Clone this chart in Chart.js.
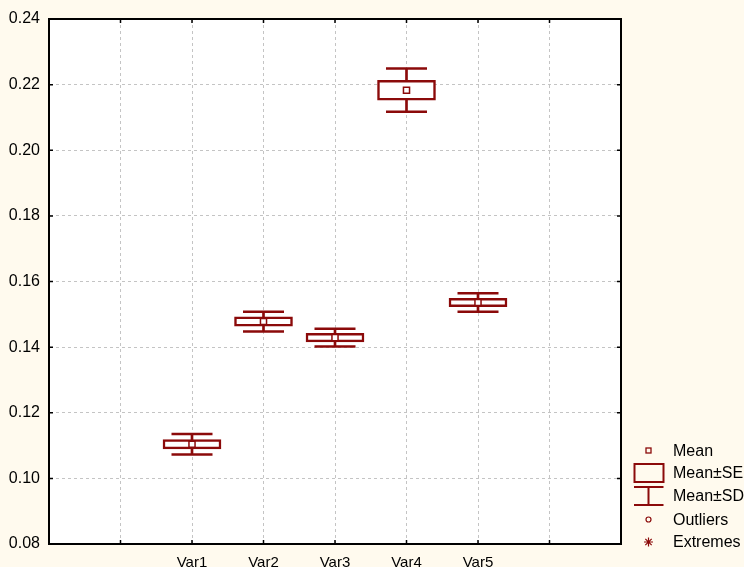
<!DOCTYPE html>
<html>
<head>
<meta charset="utf-8">
<script src="https://cdn.jsdelivr.net/npm/chart.js@4/dist/chart.umd.min.js"></script>
<style>
  body { margin: 0; background: #fffaee; }
  canvas { display: block; }
</style>
</head>
<body>
<canvas id="boxChart" width="744" height="567"></canvas>
<script>
// values (mean, standard error, standard deviation)
const categories = ['Var1', 'Var2', 'Var3', 'Var4', 'Var5'];
const means = [0.1104, 0.1478, 0.1429, 0.2183, 0.1536];
const seValues = [0.0014, 0.0014, 0.0013, 0.0030, 0.0013];
const sdValues = [0.0031, 0.0030, 0.0027, 0.0066, 0.0028];
const yTicks = [0.08, 0.10, 0.12, 0.14, 0.16, 0.18, 0.20, 0.22, 0.24];
const legendItems = ['Mean', 'Mean±SE', 'Mean±SD', 'Outliers', 'Extremes'];

const firstSlot = 2; // categories sit on x = 2..6 of a 0..8 axis
const maroon = '#8b0a0a';
const fontFamily = '"Liberation Sans", Arial, sans-serif';

const seBoxes = categories.map((c, i) => ({ x: i + firstSlot, y: [means[i] - seValues[i], means[i] + seValues[i]] }));
const sdStems = categories.map((c, i) => ({ x: i + firstSlot, y: [means[i] - sdValues[i], means[i] + sdValues[i]] }));
const sdCaps = [];
categories.forEach((c, i) => {
    sdCaps.push({ x: i + firstSlot, y: means[i] + sdValues[i] });
    sdCaps.push({ x: i + firstSlot, y: means[i] - sdValues[i] });
});
const meanPoints = categories.map((c, i) => ({ x: i + firstSlot, y: means[i] }));

const framePlugin = {
    id: 'frame',
    beforeDraw(chart) {
        const ctx = chart.ctx;
        const a = chart.chartArea;
        ctx.save();
        ctx.fillStyle = '#fffaee';
        ctx.fillRect(0, 0, chart.width, chart.height);
        ctx.fillStyle = '#ffffff';
        ctx.fillRect(a.left, a.top, a.right - a.left, a.bottom - a.top);
        ctx.restore();
    },
    afterDraw(chart) {
        const ctx = chart.ctx;
        const a = chart.chartArea;
        const xs = chart.scales.x;
        const ys = chart.scales.y;
        ctx.save();
        ctx.strokeStyle = '#000';
        ctx.lineWidth = 2;
        ctx.strokeRect(a.left, a.top, a.right - a.left, a.bottom - a.top);
        // small inward tick marks on all four sides
        ctx.lineWidth = 1.5;
        ctx.beginPath();
        yTicks.forEach(v => {
            const py = ys.getPixelForValue(v);
            ctx.moveTo(a.left, py); ctx.lineTo(a.left + 4, py);
            ctx.moveTo(a.right, py); ctx.lineTo(a.right - 4, py);
        });
        for (let v = 1; v < 8; v++) {
            const px = xs.getPixelForValue(v);
            ctx.moveTo(px, a.top); ctx.lineTo(px, a.top + 4);
            ctx.moveTo(px, a.bottom); ctx.lineTo(px, a.bottom - 4);
        }
        ctx.stroke();

        // legend
        const ix = 648.5;
        const tx = 673;
        const rows = [450.5, 472.5, 496, 519.5, 542];
        ctx.strokeStyle = maroon;
        ctx.lineWidth = 1.3;
        ctx.strokeRect(ix - 2.5, rows[0] - 2.5, 5, 5);
        ctx.lineWidth = 2;
        ctx.strokeRect(634.5, 464, 29, 18);
        ctx.beginPath();
        ctx.moveTo(634, 487); ctx.lineTo(663.5, 487);
        ctx.moveTo(ix, 487); ctx.lineTo(ix, 505);
        ctx.moveTo(634, 505); ctx.lineTo(663.5, 505);
        ctx.stroke();
        ctx.lineWidth = 1.2;
        ctx.beginPath();
        ctx.arc(ix, rows[3], 2.5, 0, Math.PI * 2);
        ctx.stroke();
        ctx.beginPath();
        for (let k = 0; k < 4; k++) {
            const ang = k * Math.PI / 4;
            ctx.moveTo(ix - 4.5 * Math.cos(ang), rows[4] - 4.5 * Math.sin(ang));
            ctx.lineTo(ix + 4.5 * Math.cos(ang), rows[4] + 4.5 * Math.sin(ang));
        }
        ctx.stroke();
        ctx.fillStyle = '#000';
        ctx.font = '16px ' + fontFamily;
        ctx.textBaseline = 'middle';
        ctx.textAlign = 'left';
        legendItems.forEach((t, i) => ctx.fillText(t, tx, rows[i] + 1));
        ctx.restore();
    }
};

new Chart(document.getElementById('boxChart'), {
    type: 'scatter',
    data: {
        datasets: [
            {
                type: 'bar',
                data: sdStems,
                backgroundColor: maroon,
                borderWidth: 0,
                barThickness: 2,
                grouped: false,
                order: 4
            },
            {
                type: 'scatter',
                data: sdCaps,
                pointStyle: 'line',
                pointRadius: 20.5,
                borderColor: maroon,
                borderWidth: 2.5,
                order: 3
            },
            {
                type: 'bar',
                data: seBoxes,
                backgroundColor: '#ffffff',
                borderColor: maroon,
                borderWidth: 2.5,
                borderSkipped: false,
                barThickness: 58,
                grouped: false,
                order: 2
            },
            {
                type: 'scatter',
                data: meanPoints,
                pointStyle: 'rect',
                pointRadius: 4.3,
                backgroundColor: '#ffffff',
                borderColor: maroon,
                borderWidth: 1.5,
                order: 1
            }
        ]
    },
    options: {
        responsive: false,
        animation: false,
        layout: { autoPadding: false, padding: { top: 19, right: 123, left: 0, bottom: 0 } },
        plugins: {
            legend: { display: false },
            tooltip: { enabled: false }
        },
        scales: {
            x: {
                type: 'linear',
                min: 0,
                max: 8,
                offset: false,
                afterFit(scale) { scale.height = 23; scale.paddingLeft = 0; scale.paddingRight = 0; },
                grid: { color: '#c4c4c4', drawTicks: false, offset: false },
                border: { color: '#000', width: 2, dash: [3, 3] },
                ticks: {
                    stepSize: 1,
                    padding: 10,
                    color: '#000',
                    font: { family: fontFamily, size: 15 },
                    callback: v => categories[v - firstSlot] || ''
                }
            },
            y: {
                min: 0.08,
                max: 0.24,
                afterFit(scale) { scale.width = 49; scale.paddingTop = 0; scale.paddingBottom = 0; },
                grid: { color: '#c4c4c4', drawTicks: false },
                border: { color: '#000', width: 2, dash: [3, 3] },
                ticks: {
                    stepSize: 0.02,
                    padding: 9,
                    color: '#000',
                    font: { family: fontFamily, size: 16 },
                    callback: v => v.toFixed(2)
                }
            }
        }
    },
    plugins: [framePlugin]
});
</script>
</body>
</html>
